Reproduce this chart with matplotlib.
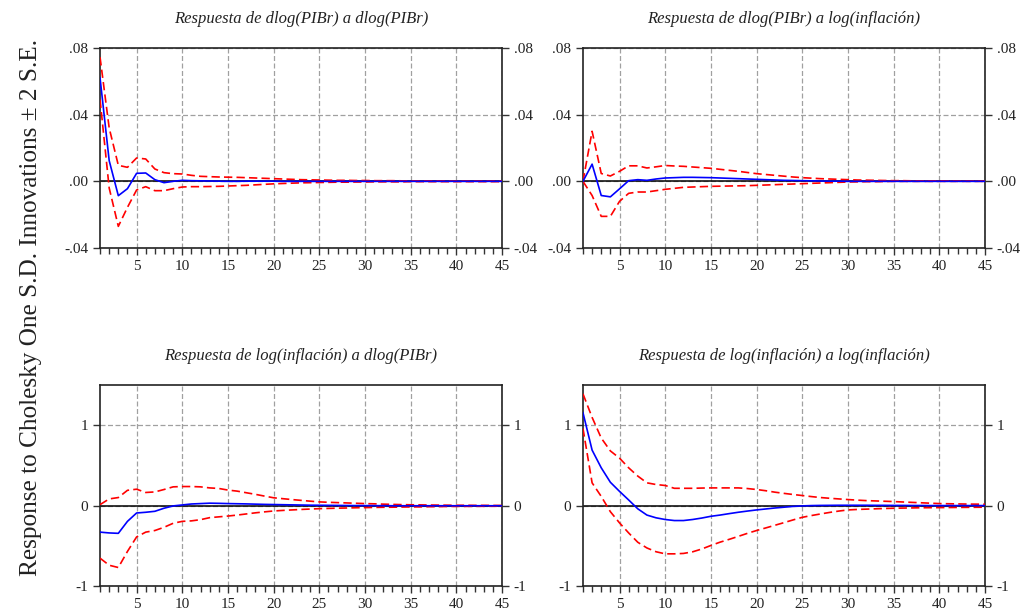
import matplotlib
matplotlib.use("Agg")
import matplotlib.pyplot as plt
from matplotlib.ticker import MultipleLocator, FixedLocator, FuncFormatter

plt.rcParams['font.family'] = ['Liberation Serif', 'DejaVu Serif']

periods = list(range(1, 46))

# Panel 1: dlog(PIBr) -> dlog(PIBr)
p1_resp = [0.062, 0.0124, -0.0086, -0.0044, 0.0048, 0.0050, 0.0010, -0.0008, 0.0, 0.0006,
           0.0004, 0.0003, 0.0002, 0.0001, 0.0, 0.0, 0.0001, 0.0001, 0.0001, 0.0001,
           0.0, 0.0, 0.0, 0.0, 0.0, 0.0, 0.0, 0.0, 0.0, 0.0,
           0.0, 0.0, 0.0, 0.0, 0.0, 0.0, 0.0, 0.0, 0.0, 0.0,
           0.0, 0.0, 0.0, 0.0, 0.0]
p1_up = [0.0744, 0.032, 0.0096, 0.0084, 0.0140, 0.0134, 0.0074, 0.0052, 0.0046, 0.0044,
         0.0036, 0.0030, 0.0028, 0.0026, 0.0025, 0.0024, 0.0022, 0.0020, 0.0018, 0.0016,
         0.0014, 0.0012, 0.0010, 0.0009, 0.0008, 0.0007, 0.0006, 0.0006, 0.0005, 0.0005,
         0.0004, 0.0004, 0.0004, 0.0003, 0.0003, 0.0003, 0.0003, 0.0003, 0.0002, 0.0002,
         0.0002, 0.0002, 0.0002, 0.0002, 0.0002]
p1_lo = [0.049, -0.004, -0.0270, -0.0156, -0.0052, -0.0032, -0.0056, -0.0056, -0.0044, -0.0034,
         -0.0032, -0.0032, -0.0031, -0.0030, -0.0028, -0.0026, -0.0024, -0.0021, -0.0018, -0.0015,
         -0.0013, -0.0011, -0.0009, -0.0008, -0.0007, -0.0006, -0.0005, -0.0005, -0.0004, -0.0004,
         -0.0003, -0.0003, -0.0003, -0.0003, -0.0002, -0.0002, -0.0002, -0.0002, -0.0002, -0.0002,
         -0.0002, -0.0002, -0.0002, -0.0002, -0.0002]

# Panel 2: dlog(PIBr) -> log(inflacion)
p2_resp = [0.0, 0.0103, -0.0085, -0.0093, -0.0045, 0.0004, 0.0010, 0.0006, 0.0014, 0.0020,
           0.0022, 0.0024, 0.0024, 0.0023, 0.0022, 0.0020, 0.0018, 0.0016, 0.0014, 0.0012,
           0.0010, 0.0008, 0.0006, 0.0005, 0.0004, 0.0003, 0.0002, 0.0001, 0.0001, 0.0,
           0.0, 0.0, 0.0, 0.0, 0.0, 0.0, 0.0, 0.0, 0.0, 0.0,
           0.0, 0.0, 0.0, 0.0, 0.0]
p2_up = [0.0, 0.030, 0.0047, 0.0032, 0.0060, 0.0093, 0.0093, 0.0080, 0.0087, 0.0095,
         0.0092, 0.0090, 0.0086, 0.0082, 0.0078, 0.0072, 0.0066, 0.0060, 0.0053, 0.0046,
         0.0041, 0.0036, 0.0031, 0.0026, 0.0022, 0.0019, 0.0016, 0.0014, 0.0012, 0.0010,
         0.0008, 0.0007, 0.0006, 0.0005, 0.0004, 0.0004, 0.0003, 0.0003, 0.0003, 0.0003,
         0.0002, 0.0002, 0.0002, 0.0002, 0.0002]
p2_lo = [0.0, -0.0085, -0.021, -0.021, -0.012, -0.0072, -0.0064, -0.0064, -0.0056, -0.0048,
         -0.0042, -0.0036, -0.0034, -0.0032, -0.0030, -0.0029, -0.0028, -0.0027, -0.0026, -0.0024,
         -0.0022, -0.0020, -0.0018, -0.0016, -0.0014, -0.0012, -0.0010, -0.0008, -0.0006, -0.0004,
         -0.0003, -0.0002, -0.0002, -0.0001, 0.0, 0.0, 0.0, 0.0, 0.0, 0.0,
         0.0, 0.0, 0.0, 0.0, 0.0]

# Panel 3: log(inflacion) -> dlog(PIBr)
p3_resp = [-0.33, -0.34, -0.345, -0.196, -0.092, -0.083, -0.071, -0.033, -0.004, 0.008,
           0.020, 0.025, 0.030, 0.028, 0.025, 0.023, 0.021, 0.018, 0.015, 0.013,
           0.011, 0.009, 0.007, 0.005, 0.004, 0.003, 0.002, 0.001, 0.0, 0.0,
           -0.001, -0.001, -0.002, -0.002, -0.002, -0.002, -0.002, -0.002, -0.002, -0.002,
           -0.002, -0.002, -0.002, -0.002, -0.002]
p3_up = [0.012, 0.083, 0.100, 0.190, 0.204, 0.163, 0.170, 0.200, 0.233, 0.237,
         0.237, 0.233, 0.220, 0.213, 0.193, 0.180, 0.160, 0.140, 0.118, 0.097,
         0.086, 0.075, 0.065, 0.055, 0.046, 0.041, 0.037, 0.033, 0.029, 0.025,
         0.022, 0.018, 0.015, 0.012, 0.010, 0.009, 0.007, 0.006, 0.005, 0.004,
         0.004, 0.003, 0.003, 0.002, 0.002]
p3_lo = [-0.654, -0.742, -0.770, -0.570, -0.390, -0.330, -0.310, -0.270, -0.220, -0.196,
         -0.190, -0.175, -0.150, -0.140, -0.130, -0.118, -0.104, -0.090, -0.078, -0.067,
         -0.060, -0.054, -0.048, -0.043, -0.038, -0.035, -0.032, -0.030, -0.027, -0.025,
         -0.023, -0.021, -0.020, -0.018, -0.017, -0.016, -0.014, -0.013, -0.011, -0.010,
         -0.010, -0.009, -0.009, -0.008, -0.008]

# Panel 4: log(inflacion) -> log(inflacion)
p4_resp = [1.156, 0.690, 0.470, 0.290, 0.177, 0.070, -0.040, -0.118, -0.152, -0.173,
           -0.186, -0.186, -0.173, -0.155, -0.133, -0.118, -0.100, -0.083, -0.068, -0.054,
           -0.042, -0.030, -0.020, -0.010, -0.004, 0.0, 0.002, 0.003, 0.004, 0.004,
           0.004, 0.004, 0.003, 0.003, 0.002, 0.002, 0.001, 0.001, 0.0, 0.0,
           0.0, 0.0, 0.0, 0.0, 0.0]
p4_up = [1.390, 1.097, 0.840, 0.680, 0.590, 0.470, 0.367, 0.283, 0.262, 0.250,
         0.215, 0.215, 0.215, 0.218, 0.220, 0.220, 0.220, 0.220, 0.212, 0.200,
         0.185, 0.167, 0.152, 0.138, 0.125, 0.112, 0.100, 0.091, 0.083, 0.075,
         0.068, 0.062, 0.058, 0.054, 0.050, 0.045, 0.040, 0.035, 0.030, 0.025,
         0.023, 0.021, 0.019, 0.018, 0.017]
p4_lo = [0.960, 0.283, 0.114, -0.076, -0.215, -0.340, -0.456, -0.527, -0.574, -0.600,
         -0.600, -0.595, -0.575, -0.540, -0.496, -0.455, -0.420, -0.383, -0.345, -0.310,
         -0.278, -0.245, -0.212, -0.178, -0.146, -0.124, -0.104, -0.085, -0.068, -0.054,
         -0.048, -0.044, -0.040, -0.036, -0.033, -0.031, -0.029, -0.027, -0.026, -0.025,
         -0.024, -0.023, -0.022, -0.021, -0.020]

titles = ["Respuesta de dlog(PIBr) a dlog(PIBr)",
          "Respuesta de dlog(PIBr) a log(inflación)",
          "Respuesta de log(inflación) a dlog(PIBr)",
          "Respuesta de log(inflación) a log(inflación)"]
responses = [p1_resp, p2_resp, p3_resp, p4_resp]
uppers = [p1_up, p2_up, p3_up, p4_up]
lowers = [p1_lo, p2_lo, p3_lo, p4_lo]

top_ticks = [-0.04, 0.0, 0.04, 0.08]
bot_ticks = [-1, 0, 1]


def fmt_small(v, pos):
    s = "%.2f" % v
    if s.startswith("-0"):
        s = "-" + s[2:]
    elif s.startswith("0"):
        s = s[1:]
    return s


fig = plt.figure(figsize=(10.24, 6.14), dpi=100)
positions = [[0.0977, 0.596, 0.3926, 0.326],
             [0.5693, 0.596, 0.3926, 0.326],
             [0.0977, 0.0456, 0.3926, 0.3274],
             [0.5693, 0.0456, 0.3926, 0.3274]]

for i in range(4):
    ax = fig.add_axes(positions[i])
    ax.set_xlim(1, 45)
    if i < 2:
        ax.set_ylim(-0.04, 0.08)
        ax.yaxis.set_major_locator(FixedLocator(top_ticks))
        ax.yaxis.set_major_formatter(FuncFormatter(fmt_small))
    else:
        ax.set_ylim(-1, 1.5)
        ax.yaxis.set_major_locator(FixedLocator(bot_ticks))
        ax.yaxis.set_major_formatter(FuncFormatter(lambda v, p: "%d" % v))
    ax.xaxis.set_major_locator(MultipleLocator(5))
    ax.xaxis.set_minor_locator(MultipleLocator(1))

    ax.grid(True, which='major', axis='both', color='#a0a0a0',
            linestyle=(0, (4, 2)), linewidth=0.9)
    ax.axhline(0, color='black', linewidth=1.1, zorder=2)

    ax.plot(periods, uppers[i], color='red', linestyle=(0, (5, 2.5)), linewidth=1.2, zorder=3)
    ax.plot(periods, lowers[i], color='red', linestyle=(0, (5, 2.5)), linewidth=1.2, zorder=3)
    ax.plot(periods, responses[i], color='blue', linewidth=1.2, zorder=4)

    ax.tick_params(axis='both', which='both', direction='out', labelsize=11,
                   colors='#333333', labelcolor='#222222')
    ax.tick_params(axis='y', which='major', left=True, right=True,
                   labelleft=True, labelright=True, length=5, width=1)
    ax.tick_params(axis='x', which='major', length=5, width=1, top=False)
    ax.tick_params(axis='x', which='minor', length=4, width=1, top=False)
    for sp in ax.spines.values():
        sp.set_linewidth(1.2)
        sp.set_color('#222222')
    ax.set_title(titles[i], fontstyle='italic', fontsize=12, pad=18, color='#222222')

fig.text(0.03, 0.5, "Response to Cholesky One S.D. Innovations \u00b1 2 S.E.",
         rotation=90, ha='center', va='center', fontsize=18.2, color='#222222')

fig.savefig("out.png", dpi=100)
